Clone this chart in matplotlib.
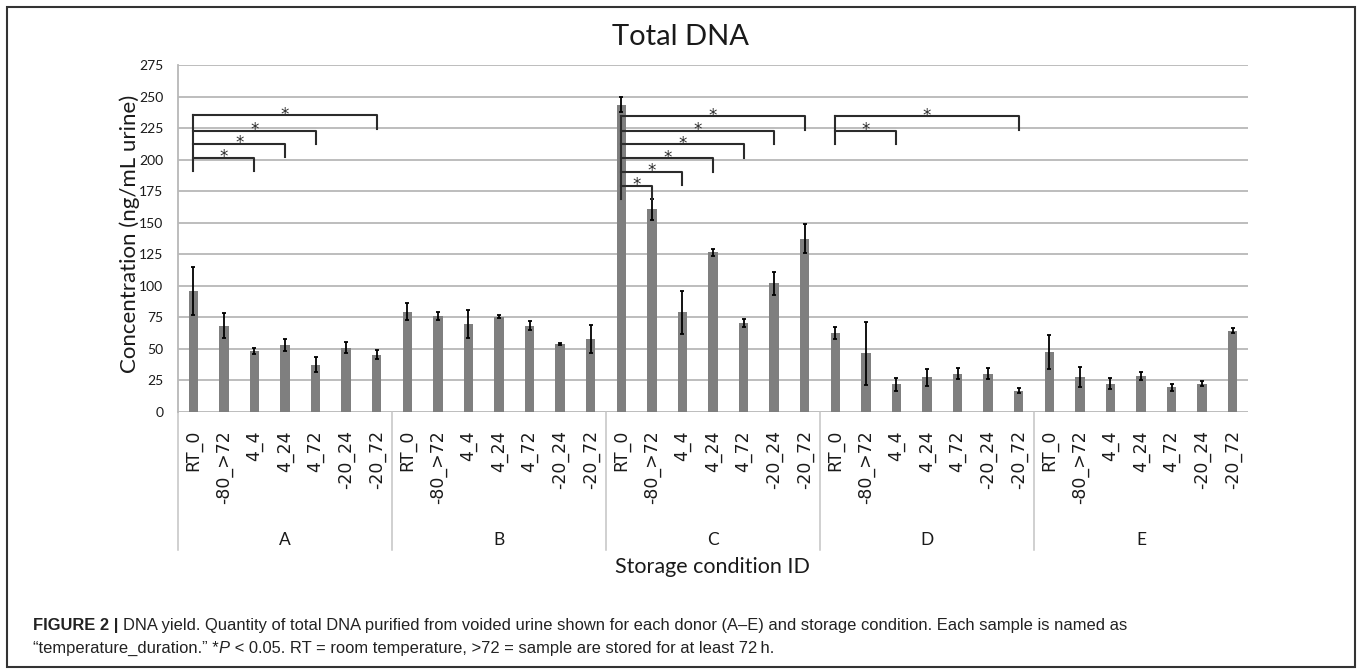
import matplotlib
matplotlib.use('Agg')
import matplotlib.pyplot as plt
from matplotlib.patches import Rectangle
import numpy as np

# donors and storage conditions
donors = ['A', 'B', 'C', 'D', 'E']
conditions = ['RT_0', '-80_>72', '4_4', '4_24', '4_72', '-20_24', '-20_72']

# total DNA (ng/mL urine), one row per donor
dna_A = [96, 68.5, 48.5, 53, 37.5, 51, 45.5]
dna_B = [79.5, 76, 70, 75.5, 68.5, 54, 58]
dna_C = [243.5, 160.5, 79, 126.5, 70.5, 102, 137.5]
dna_D = [62.5, 46.5, 22, 27.5, 30.5, 30.5, 17]
dna_E = [47.5, 27.5, 22.5, 28.5, 19.5, 22.5, 64.5]

# error bar half-widths
err_A = [19, 10, 2.5, 5, 6, 4.5, 3.5]
err_B = [6.5, 3, 11, 1, 3.5, 1, 11]
err_C = [6, 8.5, 17, 3, 3, 9, 11.5]
err_D = [4.5, 25, 5, 6.5, 4, 4, 2]
err_E = [13.5, 8, 4.5, 3.5, 2.7, 2, 2]

# significance brackets: bar index (over all 35 bars) of start and end, and level
brk_start = [0, 0, 0, 0, 14, 14, 14, 14, 14, 14, 21, 21]
brk_end = [2, 3, 4, 6, 15, 16, 17, 18, 19, 20, 23, 27]
brk_level = [201.5, 212.5, 223, 235, 179.5, 190.5, 201, 212, 223, 234.5, 223, 234.5]
brk_drop = 10.8

yticks = list(range(0, 276, 25))

# ------------------------------------------------------------------------------ #

W, H = 1360, 669
values = np.array(dna_A + dna_B + dna_C + dna_D + dna_E)
errors = np.array(err_A + err_B + err_C + err_D + err_E)
labels = conditions * len(donors)
x = np.arange(len(values))
n_cond = len(conditions)

calibri_like = ['Lato', 'DejaVu Sans']
grid_col = '#b8b8b8'
text_col = '#1a1a1a'

fig = plt.figure(figsize=(W / 100, H / 100), dpi=100)
ax = fig.add_axes([178 / W, 1 - 412 / H, 1070 / W, 347 / H])

ax.bar(x, values, width=0.31, color='#7f7f7f', zorder=3)
ax.errorbar(x, values, yerr=errors, fmt='none', ecolor='black',
            elinewidth=1.3, capsize=1.5, capthick=1.3, zorder=4)

ax.set_xlim(-0.5, len(values) - 0.5)
ax.set_ylim(0, 275)
ax.set_yticks(yticks)
ax.set_yticklabels([str(v) for v in yticks], family=calibri_like,
                   fontsize=10, color=text_col)
ax.tick_params(axis='y', length=0, pad=10.5)
ax.set_xticks(x)
ax.set_xticklabels(labels, rotation=90, family='DejaVu Sans',
                   fontsize=12.5, color=text_col)
ax.tick_params(axis='x', length=0, pad=13)

for v in yticks:
    ax.axhline(v, color=grid_col, lw=1.3, zorder=1)
for side in ['top', 'right', 'bottom']:
    ax.spines[side].set_visible(False)
ax.spines['left'].set_color(grid_col)
ax.spines['left'].set_linewidth(1.3)

# group separators and donor labels below the axis
blend = matplotlib.transforms.blended_transform_factory(ax.transData, ax.transAxes)
for i, d in enumerate(donors):
    x0 = i * n_cond - 0.5
    ax.plot([x0, x0], [0, -0.398], transform=blend, color='#c4c4c4',
            lw=1.1, clip_on=False)
    ax.text(i * n_cond + (n_cond - 1) / 2, -0.369, d, transform=blend,
            ha='center', va='center', fontsize=12.5, family=calibri_like,
            color=text_col)

# significance brackets
for s, e, lev in zip(brk_start, brk_end, brk_level):
    ax.plot([s, e, e], [lev, lev, lev - brk_drop], color='#2b2b2b', lw=1.5,
            zorder=5, clip_on=False)
    ax.text((s + e) / 2, lev - 3.5, '*', ha='center', va='baseline',
            fontsize=12, color='#2b2b2b', zorder=5)
for s in sorted(set(brk_start)):
    levs = [l for st, l in zip(brk_start, brk_level) if st == s]
    ax.plot([s, s], [max(levs), min(levs) - brk_drop], color='#2b2b2b',
            lw=1.5, zorder=5)

# titles
fig.text(680 / W, 1 - 45 / H, 'Total DNA', ha='center', va='baseline',
         fontsize=21, family=calibri_like, color=text_col)
fig.text(712 / W, 1 - 573 / H, 'Storage condition ID', ha='center',
         va='baseline', fontsize=15.5, family=calibri_like, color=text_col)
fig.text(130 / W, 1 - 234 / H, 'Concentration (ng/mL urine)', ha='center',
         va='center', rotation=90, fontsize=16, family=calibri_like,
         color=text_col)

# frame round the figure and caption
fig.patches.append(Rectangle((7 / W, 1 - 667 / H), 1348 / W, 660 / H,
                             transform=fig.transFigure, fill=False,
                             edgecolor='#333333', lw=1.5))

cap_font = ['Liberation Sans', 'DejaVu Sans']
renderer = fig.canvas.get_renderer()


def put_pieces(x0, y0, pieces):
    xx = x0
    for txt, weight, style in pieces:
        t = fig.text(xx, y0, txt, ha='left', va='baseline', fontsize=11.9,
                     family=cap_font, weight=weight, style=style,
                     color='#222222')
        bb = t.get_window_extent(renderer)
        xx = bb.x1 / W


put_pieces(33 / W, 1 - 630 / H, [
    ('FIGURE 2 | ', 'bold', 'normal'),
    ('DNA yield. Quantity of total DNA purified from voided urine shown for '
     'each donor (A\u2013E) and storage condition. Each sample is named as',
     'normal', 'normal')])
put_pieces(33 / W, 1 - 653 / H, [
    ('\u201ctemperature_duration.\u201d *', 'normal', 'normal'),
    ('P', 'normal', 'italic'),
    (' < 0.05. RT = room temperature, >72 = sample are stored for at least 72\u2009h.',
     'normal', 'normal')])

fig.savefig('out.png', dpi=100)
